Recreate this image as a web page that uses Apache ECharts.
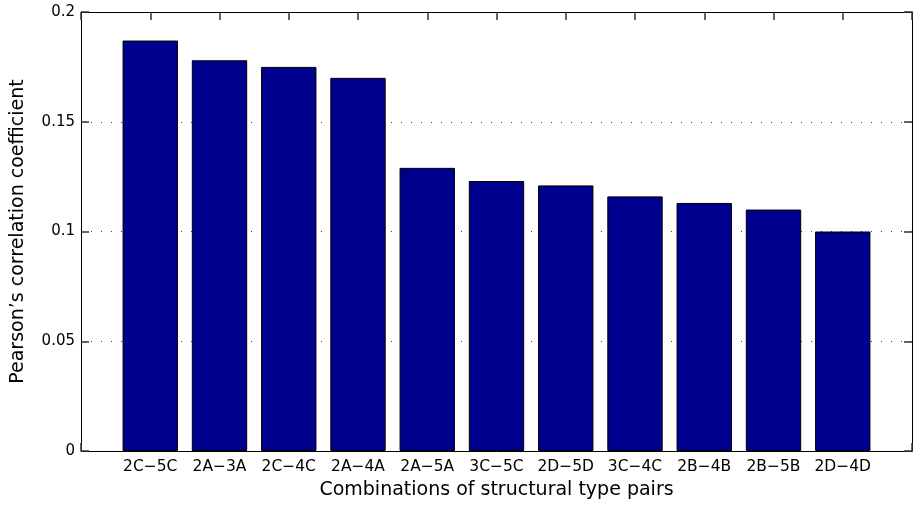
<!DOCTYPE html>
<html>
<head>
<meta charset="utf-8">
<script src="https://cdn.jsdelivr.net/npm/echarts@6/dist/echarts.min.js"></script>
<style>
html,body{margin:0;padding:0;background:#fff;}
#chart{width:915px;height:505px;}
</style>
</head>
<body>
<div id="chart"></div>
<script>
var categories = ['2C\u22125C','2A\u22123A','2C\u22124C','2A\u22124A','2A\u22125A','3C\u22125C','2D\u22125D','3C\u22124C','2B\u22124B','2B\u22125B','2D\u22124D'];
var values = [0.187, 0.178, 0.175, 0.170, 0.129, 0.123, 0.121, 0.116, 0.113, 0.110, 0.100];
var yTicks = [0, 0.05, 0.1, 0.15, 0.2];
var xTitle = 'Combinations of structural type pairs';
var yTitle = 'Pearson\u2019s correlation coefficient';

// pad with empty slots so the axis runs from 0 to n+1 like the original
var axisCats = [''].concat(categories).concat(['']);
var seriesData = [null].concat(values).concat([null]);

var font = '"DejaVu Sans", "Liberation Sans", Arial, sans-serif';
var tickStyle = {color: '#333', width: 1.5};
var chart = echarts.init(document.getElementById('chart'), null, {renderer:'canvas'});
chart.setOption({
  animation: false,
  backgroundColor: '#fff',
  grid: {left: 81, right: 2, top: 12, bottom: 54, containLabel: false},
  xAxis: [{
    type: 'category', data: axisCats, boundaryGap: false, position: 'bottom',
    axisLine: {show: true, onZero: false, lineStyle: {color: '#000', width: 1}},
    axisTick: {show: true, inside: true, length: 8, interval: 0, lineStyle: tickStyle},
    axisLabel: {show: true, interval: 0, color: '#000', fontSize: 15.5, fontFamily: font, margin: 8},
    splitLine: {show: false},
    name: xTitle, nameLocation: 'middle', nameGap: 30,
    nameTextStyle: {color: '#000', fontSize: 19, fontFamily: font}
  }, {
    type: 'category', data: axisCats, boundaryGap: false, position: 'top',
    axisLine: {show: true, onZero: false, lineStyle: {color: '#000', width: 1}},
    axisTick: {show: true, inside: true, length: 8, interval: 0, lineStyle: tickStyle},
    axisLabel: {show: false, interval: 0}, splitLine: {show: false}
  }],
  yAxis: [{
    type: 'value', min: yTicks[0], max: yTicks[yTicks.length-1], interval: yTicks[1]-yTicks[0], position: 'left',
    axisLine: {show: true, onZero: false, lineStyle: {color: '#000', width: 1}},
    axisTick: {show: true, inside: true, length: 8, lineStyle: tickStyle},
    axisLabel: {color: '#000', fontSize: 15, fontFamily: font, margin: 6},
    splitLine: {show: true, lineStyle: {color: '#444', width: 1, type: [1, 9]}},
    name: yTitle, nameLocation: 'middle', nameGap: 53, nameRotate: 90,
    nameTextStyle: {color: '#000', fontSize: 19, fontFamily: font}
  }, {
    type: 'value', min: yTicks[0], max: yTicks[yTicks.length-1], interval: yTicks[1]-yTicks[0], position: 'right',
    axisLine: {show: true, onZero: false, lineStyle: {color: '#000', width: 1}},
    axisTick: {show: true, inside: true, length: 8, lineStyle: tickStyle},
    axisLabel: {show: false}, splitLine: {show: false}
  }],
  series: [{
    type: 'bar', data: seriesData, xAxisIndex: 0, yAxisIndex: 0,
    barWidth: '80%',
    itemStyle: {color: '#00008F', borderColor: '#000', borderWidth: 1},
    z: 3
  }]
});
</script>
</body>
</html>
